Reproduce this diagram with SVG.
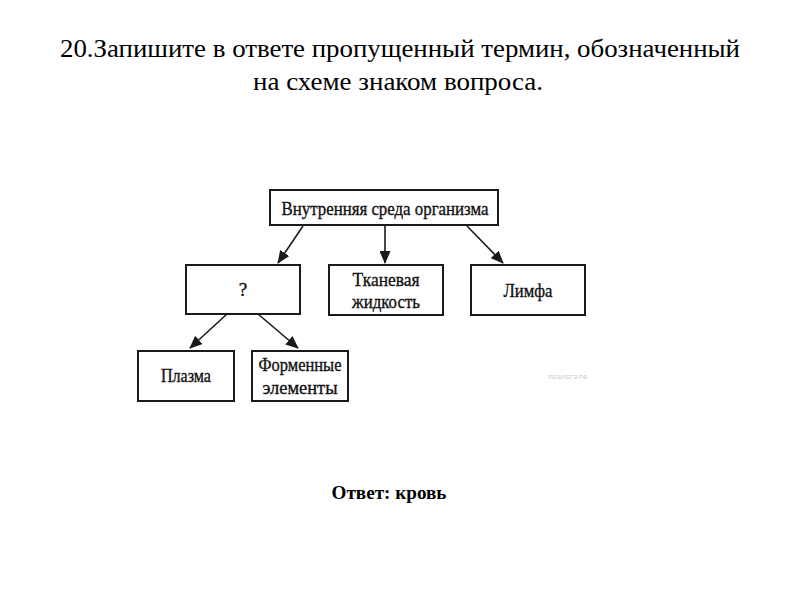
<svg xmlns="http://www.w3.org/2000/svg" width="800" height="600" viewBox="0 0 800 600">
<style>
.title{font-family:"Liberation Serif","Times New Roman",serif;font-size:26px;fill:#000;text-anchor:middle}
.ans{font-family:"Liberation Serif","Times New Roman",serif;font-size:19px;font-weight:bold;fill:#000;text-anchor:middle}
.box{fill:#fff;stroke:#1a1a1a;stroke-width:2}
.lbl{font-family:"Liberation Serif","Times New Roman",serif;font-size:19px;fill:#111;stroke:#111;stroke-width:0.35;text-anchor:middle}
.edge{stroke:#1a1a1a;stroke-width:1.6;fill:none;marker-end:url(#ah)}
.wm{font-family:"Liberation Sans",Arial,sans-serif;font-size:6px;fill:#c8c8c8;text-anchor:middle}
</style>
<defs>
<marker id="ah" markerWidth="13" markerHeight="11" refX="12" refY="5.5" orient="auto" markerUnits="userSpaceOnUse">
<path d="M0,0 L13,5.5 L0,11 Z" fill="#1a1a1a"/>
</marker>
</defs>
<rect width="800" height="600" fill="#fff"/>
<text class="title" x="400" y="57" textLength="680" lengthAdjust="spacingAndGlyphs">20.Запишите в ответе пропущенный термин, обозначенный</text>
<text class="title" x="398" y="90" textLength="290" lengthAdjust="spacingAndGlyphs">на схеме знаком вопроса.</text>

<g id="connectors">
<line class="edge" x1="303" y1="226" x2="278" y2="263"/>
<line class="edge" x1="385" y1="226" x2="385" y2="263"/>
<line class="edge" x1="467" y1="226" x2="503" y2="263"/>
<line class="edge" x1="227" y1="314" x2="190" y2="348"/>
<line class="edge" x1="258" y1="314" x2="298" y2="348"/>
</g>

<g id="root">
<rect class="box" x="270" y="190" width="228" height="35"/>
<text class="lbl" x="385" y="215" textLength="207" lengthAdjust="spacingAndGlyphs">Внутренняя среда организма</text>
</g>
<g id="question">
<rect class="box" x="186" y="265" width="114" height="49"/>
<text class="lbl" x="243" y="296">?</text>
</g>
<g id="tissue">
<rect class="box" x="329" y="265" width="114" height="50"/>
<text class="lbl" x="386" y="286" textLength="67" lengthAdjust="spacingAndGlyphs">Тканевая</text>
<text class="lbl" x="386" y="308" textLength="68" lengthAdjust="spacingAndGlyphs">жидкость</text>
</g>
<g id="lymph">
<rect class="box" x="471" y="265" width="114" height="50"/>
<text class="lbl" x="528" y="297" textLength="49" lengthAdjust="spacingAndGlyphs">Лимфа</text>
</g>
<g id="plasma">
<rect class="box" x="138" y="351" width="96" height="50"/>
<text class="lbl" x="186" y="382" textLength="50" lengthAdjust="spacingAndGlyphs">Плазма</text>
</g>
<g id="formed">
<rect class="box" x="252" y="351" width="96" height="50"/>
<text class="lbl" x="300" y="371" textLength="83" lengthAdjust="spacingAndGlyphs">Форменные</text>
<text class="lbl" x="300" y="394" textLength="75" lengthAdjust="spacingAndGlyphs">элементы</text>
</g>
<text class="wm" x="568" y="379">РЕШУЕГЭ.РФ</text>

<text class="ans" x="389" y="499" textLength="115" lengthAdjust="spacingAndGlyphs">Ответ: кровь</text>
</svg>
